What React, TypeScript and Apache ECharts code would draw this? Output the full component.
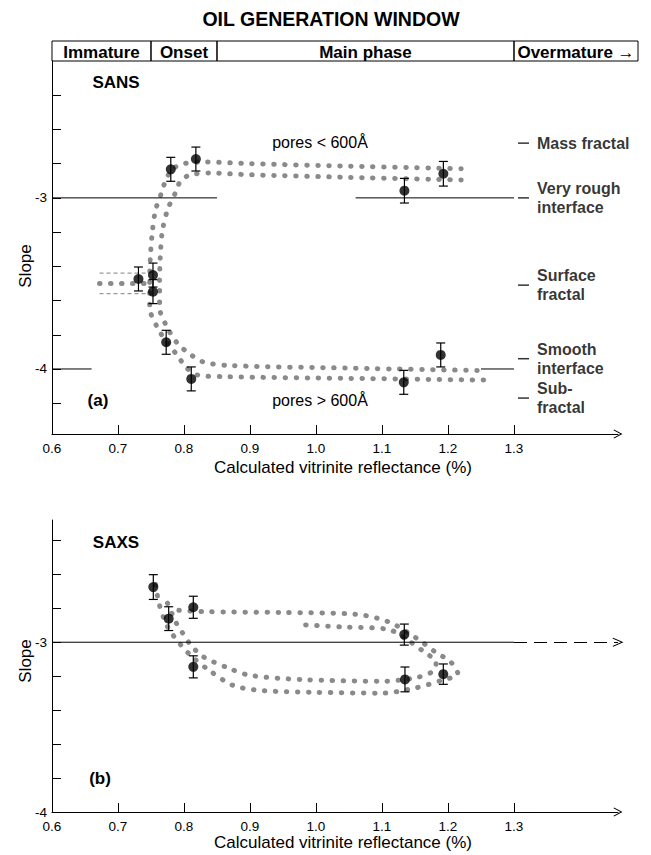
import React, { useEffect, useRef } from "react";
import * as echarts from "echarts";

const FONT = '"Liberation Sans", Arial, Helvetica, sans-serif';

// ---------- header stages ----------
const stageNames = ["Immature", "Onset", "Main phase", "Overmature →"];
const stageBounds = [0.6, 0.75, 0.85, 1.3, 1.4879];

// ---------- axes ----------
const xTickValues = [0.7, 0.8, 0.9, 1.0, 1.1, 1.2, 1.3];
const xLabelValues = [0.6, 0.7, 0.8, 0.9, 1.0, 1.1, 1.2, 1.3];
const yLabelValues = [-4, -3];
const yTicksSans = [-4.2, -4.0, -3.8, -3.6, -3.4, -3.2, -3.0, -2.8, -2.6, -2.4];
const yTicksSaxs = [-3.8, -3.6, -3.4, -3.2, -3.0, -2.8, -2.6, -2.4];
const X_MIN = 0.6;
const X_MAX = 1.4576;

// ---------- panel (a) SANS ----------
const sansX = [0.731, 0.753, 0.753, 0.78, 0.818, 0.773, 0.811, 1.134, 1.193, 1.189, 1.133];
const sansY = [-3.474, -3.451, -3.548, -2.833, -2.773, -3.844, -4.058, -2.958, -2.859, -3.918, -4.078];
const sansErr = [0.07, 0.07, 0.07, 0.07, 0.07, 0.07, 0.07, 0.072, 0.072, 0.07, 0.07];

const sansBandOuter = [
  [1.22, -2.83], [1.05, -2.815], [0.9, -2.8], [0.83, -2.79], [0.8, -2.8], [0.783, -2.83],
  [0.773, -2.89], [0.766, -2.97], [0.757, -3.07], [0.752, -3.2], [0.749, -3.35], [0.748, -3.5],
  [0.748, -3.64], [0.76, -3.76], [0.775, -3.85], [0.79, -3.92], [0.803, -3.99], [0.82, -4.035],
  [0.86, -4.045], [1.05, -4.055], [1.26, -4.065],
];
const sansBandInner = [
  [1.22, -2.895], [1.05, -2.88], [0.9, -2.865], [0.84, -2.855], [0.81, -2.865], [0.795, -2.9],
  [0.787, -2.97], [0.775, -3.07], [0.767, -3.2], [0.764, -3.35], [0.763, -3.5], [0.763, -3.64],
  [0.775, -3.76], [0.79, -3.85], [0.808, -3.91], [0.83, -3.96], [0.87, -3.98], [1.05, -3.995],
  [1.26, -4.01],
];
const sansStub = [[0.672, -3.5], [0.745, -3.5]];
const sansStubTop = [[0.672, -3.44], [0.745, -3.44]];
const sansStubBottom = [[0.672, -3.56], [0.745, -3.56]];

const sansRefA = [[0.6, -3], [0.85, -3]];
const sansRefB = [[1.06, -3], [1.3, -3]];
const sansRefC = [[0.6, -4], [0.66, -4]];
const sansRefD = [[1.25, -4], [1.3, -4]];

const classNames = ["Mass fractal", "Very rough\ninterface", "Surface\nfractal", "Smooth\ninterface", "Sub-\nfractal"];
const classY = [-2.68, -3.0, -3.51, -3.94, -4.17];
const classX = 1.3144;

// ---------- panel (b) SAXS ----------
const saxsX = [0.7535, 0.7768, 0.8141, 0.8141, 1.1338, 1.1348, 1.1929];
const saxsY = [-2.675, -2.861, -2.794, -3.145, -2.955, -3.219, -3.188];
const saxsErr = [0.073, 0.07, 0.065, 0.065, 0.062, 0.073, 0.06];

const saxsBandOuter = [
  [0.757, -2.66], [0.762, -2.77], [0.772, -2.885], [0.78, -2.94], [0.795, -3.015], [0.812, -3.085],
  [0.838, -3.165], [0.875, -3.255], [0.92, -3.285], [1.0, -3.295], [1.1, -3.3], [1.15, -3.27],
  [1.19, -3.225], [1.215, -3.186], [1.205, -3.12], [1.18, -3.055], [1.15, -2.97], [1.11, -2.88],
  [1.06, -2.835], [0.95, -2.825], [0.83, -2.82], [0.785, -2.81],
];
const saxsBandInner = [
  [0.775, -2.77], [0.788, -2.885], [0.797, -2.94], [0.81, -3.015], [0.829, -3.085], [0.866, -3.15],
  [0.9, -3.195], [0.98, -3.22], [1.1, -3.23], [1.15, -3.21], [1.178, -3.17], [1.182, -3.12],
  [1.163, -3.055], [1.138, -2.985], [1.11, -2.925], [1.04, -2.91], [0.97, -2.895],
];
const saxsRef = [[0.6, -3], [1.3, -3]];

const ARROW = "path://M0,9.4 L5,0 L10,9.4 L9.1,10 L5,2.3 L0.9,10 Z";

const dotStyle = { color: "#8a8a8a", width: 5, type: [0.5, 10.5], cap: "round" };
const faintStyle = { color: "#9a9a9a", width: 1.2, type: [4, 3] };

function bandSeries(data: number[][], idx: number, style: any = dotStyle, smooth = 0.3) {
  return {
    type: "line",
    xAxisIndex: idx,
    yAxisIndex: idx,
    data,
    showSymbol: false,
    symbol: "none",
    smooth,
    silent: true,
    lineStyle: style,
    z: 1,
  };
}

function refSeries(data: number[][], idx: number, extra: any = {}) {
  return {
    type: "line",
    xAxisIndex: idx,
    yAxisIndex: idx,
    data,
    showSymbol: false,
    symbol: "none",
    silent: true,
    lineStyle: { color: "#000", width: 1 },
    z: 2,
    ...extra,
  };
}

function errorSeries(xs: number[], ys: number[], es: number[], idx: number) {
  return {
    type: "custom",
    xAxisIndex: idx,
    yAxisIndex: idx,
    data: xs.map((x, i) => [x, ys[i], es[i]]),
    encode: { x: 0, y: 1 },
    silent: true,
    z: 3,
    renderItem: (params: any, api: any) => {
      const x = api.value(0);
      const y = api.value(1);
      const e = api.value(2);
      const t = api.coord([x, y + e]);
      const b = api.coord([x, y - e]);
      const w = 4.5;
      const st = { stroke: "#000", lineWidth: 1.2 };
      return {
        type: "group",
        children: [
          { type: "line", shape: { x1: t[0], y1: t[1], x2: b[0], y2: b[1] }, style: st },
          { type: "line", shape: { x1: t[0] - w, y1: t[1], x2: t[0] + w, y2: t[1] }, style: st },
          { type: "line", shape: { x1: b[0] - w, y1: b[1], x2: b[0] + w, y2: b[1] }, style: st },
        ],
      };
    },
  };
}

function pointSeries(xs: number[], ys: number[], idx: number) {
  return {
    type: "scatter",
    xAxisIndex: idx,
    yAxisIndex: idx,
    data: xs.map((x, i) => [x, ys[i]]),
    symbol: "circle",
    symbolSize: 10,
    itemStyle: { color: "#000" },
    silent: true,
    z: 4,
  };
}

function xAxisDef(gridIndex: number) {
  return {
    type: "value",
    gridIndex,
    min: X_MIN,
    max: X_MAX,
    axisLine: {
      show: true,
      onZero: false,
      lineStyle: { color: "#000", width: 1 },
      symbol: ["none", ARROW],
      symbolSize: [9, 11],
    },
    axisTick: { show: true, inside: true, length: 9, customValues: xTickValues, lineStyle: { color: "#000" } },
    axisLabel: {
      customValues: xLabelValues,
      formatter: (v: number) => v.toFixed(1),
      margin: 7,
      fontSize: 13.5,
      color: "#000",
      fontFamily: FONT,
    },
    splitLine: { show: false },
  };
}

function yAxisDef(gridIndex: number, min: number, max: number, ticks: number[]) {
  return {
    type: "value",
    gridIndex,
    min,
    max,
    axisLine: { show: true, onZero: false, lineStyle: { color: "#000", width: 1 } },
    axisTick: { show: true, inside: true, length: 9, customValues: ticks, lineStyle: { color: "#000" } },
    axisLabel: {
      customValues: yLabelValues,
      margin: 5,
      fontSize: 13.5,
      color: "#000",
      fontFamily: FONT,
    },
    splitLine: { show: false },
  };
}

function textEl(text: string, x: number, y: number, font: string, rotation = 0) {
  return {
    type: "text",
    x,
    y,
    rotation,
    silent: true,
    style: {
      text,
      font,
      fill: "#000",
      align: "center",
      verticalAlign: "middle",
      textAlign: "center",
      textVerticalAlign: "middle",
    },
  };
}

export default function App() {
  const ref = useRef<HTMLDivElement>(null);

  useEffect(() => {
    if (!ref.current) return;
    const chart = echarts.init(ref.current, null, { renderer: "svg" });

    const stageData = stageNames.map((_, i) => [stageBounds[i], stageBounds[i + 1]]);

    const option: any = {
      animation: false,
      backgroundColor: "#fff",
      textStyle: { fontFamily: FONT },
      grid: [
        { left: 52, top: 61, width: 566, height: 373 },
        { left: 52, top: 520, width: 566, height: 292 },
        { left: 52, top: 41, width: 586, height: 20 },
      ],
      xAxis: [
        xAxisDef(0),
        xAxisDef(1),
        { type: "value", gridIndex: 2, min: 0.6, max: 1.4879, show: false },
      ],
      yAxis: [
        yAxisDef(0, -4.38, -2.2, yTicksSans),
        yAxisDef(1, -4, -2.28, yTicksSaxs),
        { type: "value", gridIndex: 2, min: 0, max: 1, show: false },
      ],
      graphic: [
        textEl("OIL GENERATION WINDOW", 331, 19, `bold 19.5px ${FONT}`),
        textEl("SANS", 116, 82, `bold 17px ${FONT}`),
        textEl("SAXS", 116, 542, `bold 17px ${FONT}`),
        textEl("(a)", 98, 400, `bold 17px ${FONT}`),
        textEl("(b)", 100, 778, `bold 17px ${FONT}`),
        textEl("pores < 600Å", 320, 142, `16px ${FONT}`),
        textEl("pores > 600Å", 320, 400, `16px ${FONT}`),
        textEl("Slope", 25, 266, `17px ${FONT}`, Math.PI / 2),
        textEl("Slope", 25, 661, `17px ${FONT}`, Math.PI / 2),
        textEl("Calculated vitrinite reflectance (%)", 343, 467, `17px ${FONT}`),
        textEl("Calculated vitrinite reflectance (%)", 343, 842, `17px ${FONT}`),
      ],
      series: [
        // header
        {
          type: "custom",
          xAxisIndex: 2,
          yAxisIndex: 2,
          data: stageData,
          silent: true,
          renderItem: (params: any, api: any) => {
            const i = params.dataIndex;
            const p0 = api.coord([api.value(0), 1]);
            const p1 = api.coord([api.value(1), 0]);
            return {
              type: "group",
              children: [
                {
                  type: "rect",
                  shape: { x: p0[0], y: p0[1], width: p1[0] - p0[0], height: p1[1] - p0[1] },
                  style: { fill: "none", stroke: "#000", lineWidth: 1 },
                },
                {
                  type: "text",
                  style: {
                    text: stageNames[i],
                    x: (p0[0] + p1[0]) / 2,
                    y: (p0[1] + p1[1]) / 2 + 1,
                    align: "center",
                    verticalAlign: "middle",
                    textAlign: "center",
                    textVerticalAlign: "middle",
                    font: `bold 17px ${FONT}`,
                    fill: "#000",
                  },
                },
              ],
            };
          },
        },
        // panel (a)
        bandSeries(sansBandOuter, 0),
        bandSeries(sansBandInner, 0),
        bandSeries(sansStub, 0, dotStyle, 0),
        bandSeries(sansStubTop, 0, faintStyle, 0),
        bandSeries(sansStubBottom, 0, faintStyle, 0),
        refSeries(sansRefA, 0),
        refSeries(sansRefB, 0),
        refSeries(sansRefC, 0),
        refSeries(sansRefD, 0),
        errorSeries(sansX, sansY, sansErr, 0),
        pointSeries(sansX, sansY, 0),
        {
          type: "scatter",
          xAxisIndex: 0,
          yAxisIndex: 0,
          data: classNames.map((n, i) => ({ name: n, value: [classX, classY[i]] })),
          symbol: "rect",
          symbolSize: [11, 1.5],
          itemStyle: { color: "#000" },
          silent: true,
          label: {
            show: true,
            position: "right",
            distance: 8,
            formatter: (p: any) => p.name,
            fontFamily: FONT,
            fontWeight: "bold",
            fontSize: 16,
            lineHeight: 19,
            color: "#000",
          },
          z: 4,
        },
        // panel (b)
        bandSeries(saxsBandOuter, 1),
        bandSeries(saxsBandInner, 1),
        refSeries(saxsRef, 1, {
          markLine: {
            silent: true,
            symbol: ["none", ARROW],
            symbolSize: [9, 11],
            label: { show: false },
            lineStyle: { color: "#000", width: 1, type: [13, 7] },
            data: [[{ coord: [1.3, -3] }, { coord: [X_MAX, -3] }]],
          },
        }),
        errorSeries(saxsX, saxsY, saxsErr, 1),
        pointSeries(saxsX, saxsY, 1),
      ],
    };

    chart.setOption(option);
    return () => chart.dispose();
  }, []);

  return (
    <div
      ref={ref}
      style={{ position: "absolute", left: 0, top: 0, width: 651, height: 855, background: "#fff" }}
    />
  );
}
